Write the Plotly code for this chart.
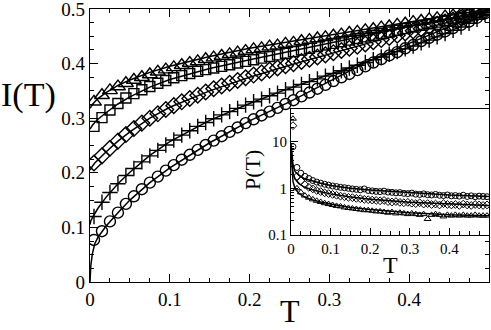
import numpy as np
import plotly.graph_objects as go

# main panel: I(T), 50 points at T = 0.005 ... 0.495
T = np.round(np.arange(0.005, 0.5, 0.01), 3)

I_tri = [0.330, 0.342, 0.351, 0.358, 0.364, 0.370, 0.375, 0.380, 0.385, 0.389,
         0.393, 0.397, 0.401, 0.404, 0.408, 0.411, 0.414, 0.417, 0.420, 0.423,
         0.426, 0.428, 0.431, 0.433, 0.436, 0.438, 0.441, 0.443, 0.446, 0.448,
         0.451, 0.453, 0.456, 0.458, 0.461, 0.463, 0.466, 0.468, 0.471, 0.473,
         0.476, 0.478, 0.481, 0.483, 0.486, 0.488, 0.491, 0.493, 0.496, 0.499]
I_sq = [0.285, 0.301, 0.315, 0.327, 0.337, 0.345, 0.352, 0.358, 0.364, 0.369,
        0.374, 0.378, 0.382, 0.386, 0.389, 0.392, 0.395, 0.398, 0.401, 0.404,
        0.407, 0.410, 0.413, 0.416, 0.419, 0.422, 0.425, 0.428, 0.431, 0.434,
        0.437, 0.440, 0.443, 0.446, 0.449, 0.452, 0.455, 0.458, 0.461, 0.464,
        0.467, 0.470, 0.473, 0.476, 0.479, 0.482, 0.485, 0.489, 0.493, 0.497]
I_dia = [0.218, 0.231, 0.245, 0.258, 0.270, 0.281, 0.291, 0.300, 0.308, 0.316,
         0.323, 0.330, 0.336, 0.342, 0.348, 0.354, 0.359, 0.364, 0.369, 0.374,
         0.379, 0.383, 0.388, 0.392, 0.396, 0.400, 0.404, 0.408, 0.412, 0.416,
         0.420, 0.424, 0.428, 0.432, 0.436, 0.440, 0.444, 0.448, 0.452, 0.456,
         0.460, 0.464, 0.468, 0.472, 0.476, 0.480, 0.484, 0.488, 0.492, 0.497]
I_plus = [0.120, 0.146, 0.164, 0.180, 0.195, 0.208, 0.220, 0.231, 0.241, 0.251,
          0.260, 0.269, 0.277, 0.285, 0.292, 0.299, 0.306, 0.312, 0.318, 0.324,
          0.330, 0.335, 0.341, 0.346, 0.352, 0.357, 0.362, 0.367, 0.372, 0.377,
          0.382, 0.387, 0.392, 0.397, 0.402, 0.407, 0.412, 0.417, 0.422, 0.427,
          0.432, 0.438, 0.443, 0.449, 0.455, 0.461, 0.467, 0.474, 0.481, 0.490]
I_circ = [0.077, 0.093, 0.111, 0.127, 0.143, 0.157, 0.170, 0.182, 0.193, 0.204,
          0.214, 0.224, 0.233, 0.242, 0.251, 0.259, 0.267, 0.275, 0.283, 0.291,
          0.298, 0.305, 0.312, 0.319, 0.326, 0.333, 0.340, 0.347, 0.354, 0.361,
          0.368, 0.375, 0.381, 0.388, 0.395, 0.402, 0.408, 0.415, 0.421, 0.428,
          0.434, 0.441, 0.447, 0.453, 0.459, 0.465, 0.471, 0.477, 0.484, 0.492]

# fitted curves
T_fit = [0, 0.001, 0.003, 0.006, 0.01, 0.02, 0.035, 0.05, 0.075, 0.1,
         0.15, 0.2, 0.25, 0.3, 0.35, 0.4, 0.45, 0.5]
fit_tri = [0.318, 0.321, 0.325, 0.330, 0.336, 0.347, 0.360, 0.370, 0.384, 0.395,
           0.413, 0.428, 0.440, 0.452, 0.464, 0.476, 0.488, 0.500]
fit_sq = [0.280, 0.283, 0.287, 0.292, 0.298, 0.310, 0.326, 0.339, 0.357, 0.371,
          0.391, 0.407, 0.422, 0.437, 0.452, 0.467, 0.482, 0.498]
fit_dia = [0.205, 0.208, 0.212, 0.218, 0.224, 0.238, 0.258, 0.275, 0.300, 0.320,
           0.350, 0.375, 0.397, 0.418, 0.438, 0.457, 0.476, 0.497]
fit_plus = [0.105, 0.112, 0.118, 0.125, 0.135, 0.155, 0.180, 0.201, 0.232, 0.257,
            0.296, 0.327, 0.355, 0.380, 0.405, 0.430, 0.458, 0.495]
fit_circ = [0.0, 0.030, 0.052, 0.070, 0.082, 0.102, 0.127, 0.150, 0.182, 0.209,
            0.255, 0.295, 0.330, 0.368, 0.405, 0.437, 0.468, 0.498]

# inset: P(T), log scale
P_circ = [7.8, 2.8, 2.1, 1.8, 1.62, 1.47, 1.36, 1.29, 1.22, 1.17,
          1.12, 1.09, 1.05, 1.03, 1.00, 0.97, 0.95, 0.93, 0.97, 0.90,
          0.88, 0.86, 0.85, 0.87, 0.83, 0.82, 0.80, 0.81, 0.78, 0.77,
          0.79, 0.75, 0.74, 0.76, 0.73, 0.72, 0.74, 0.71, 0.70, 0.72,
          0.69, 0.70, 0.68, 0.71, 0.67, 0.69, 0.66, 0.68, 0.67, 0.66]
P_dia = [22, 1.8, 1.45, 1.2, 1.05, 0.97, 0.90, 0.85, 0.80, 0.77,
         0.74, 0.71, 0.68, 0.66, 0.64, 0.63, 0.61, 0.60, 0.58, 0.57,
         0.56, 0.55, 0.54, 0.55, 0.52, 0.51, 0.52, 0.50, 0.49, 0.50,
         0.48, 0.47, 0.49, 0.46, 0.47, 0.45, 0.46, 0.44, 0.47, 0.45,
         0.44, 0.45, 0.43, 0.46, 0.44, 0.43, 0.45, 0.44, 0.43, 0.44]
P_tri = [31, 1.0, 0.82, 0.70, 0.63, 0.58, 0.54, 0.51, 0.48, 0.46,
         0.44, 0.42, 0.41, 0.39, 0.38, 0.37, 0.36, 0.35, 0.34, 0.34,
         0.33, 0.32, 0.32, 0.31, 0.30, 0.31, 0.29, 0.30, 0.29, 0.28,
         0.29, 0.28, 0.27, 0.28, 0.22, 0.27, 0.28, 0.27, 0.25, 0.27,
         0.26, 0.27, 0.26, 0.27, 0.26, 0.26, 0.27, 0.26, 0.26, 0.26]
T_fit_in = [0, 0.002, 0.005, 0.01, 0.02, 0.035, 0.05, 0.075, 0.1, 0.15, 0.2, 0.3, 0.4, 0.5]
Pfit_circ = [9, 5, 3.2, 2.3, 1.9, 1.6, 1.45, 1.28, 1.15, 1.0, 0.92, 0.80, 0.72, 0.67]
Pfit_dia = [8, 3.5, 2.2, 1.6, 1.25, 1.05, 0.95, 0.84, 0.76, 0.65, 0.58, 0.50, 0.46, 0.43]
Pfit_tri = [7, 2.5, 1.4, 1.0, 0.78, 0.65, 0.58, 0.51, 0.46, 0.39, 0.35, 0.30, 0.27, 0.26]

W, H = 491, 330
FONT = "Liberation Serif"
TICKFONT = "Times New Roman, Liberation Serif"


def px_x(p):
    return p / W


def px_y(p):
    return 1 - p / H


fig = go.Figure()

main = [
    (I_tri, fit_tri, "triangle-up-open", 13),
    (I_sq, fit_sq, "square-open", 10),
    (I_dia, fit_dia, "diamond-open", 12),
    (I_plus, fit_plus, "cross-thin-open", 11),
    (I_circ, fit_circ, "circle-open", 11),
]
for vals, fit, sym, sz in main:
    fig.add_trace(go.Scatter(x=T_fit, y=fit, mode="lines",
                             line=dict(color="black", width=1.5),
                             xaxis="x", yaxis="y", showlegend=False))
    fig.add_trace(go.Scatter(x=T, y=vals, mode="markers",
                             marker=dict(symbol=sym, size=sz, color="black",
                                         line=dict(color="black", width=1.4)),
                             xaxis="x", yaxis="y", showlegend=False))

inset = [
    (P_circ, Pfit_circ, "circle-open", 6),
    (P_dia, Pfit_dia, "diamond-open", 6),
    (P_tri, Pfit_tri, "triangle-up-open", 6),
]
for vals, fit, sym, sz in inset:
    fig.add_trace(go.Scatter(x=T_fit_in, y=fit, mode="lines",
                             line=dict(color="black", width=1.5),
                             xaxis="x2", yaxis="y2", showlegend=False))
    fig.add_trace(go.Scatter(x=T, y=vals, mode="markers",
                             marker=dict(symbol=sym, size=sz, color="black",
                                         line=dict(color="black", width=1)),
                             xaxis="x2", yaxis="y2", showlegend=False))

ax_common = dict(showline=True, linecolor="black", linewidth=1.2, mirror="allticks",
                 ticks="inside", tickcolor="black", showgrid=False, zeroline=False,
                 automargin=False, ticklabeloverflow="allow")
minor_lin = dict(ticks="inside", ticklen=4, tickcolor="black", tick0=0, dtick=0.025)

log_minor = [m * 10.0 ** e for e in (-1, 0, 1) for m in range(2, 10) if m * 10.0 ** e < 50]

fig.update_layout(
    width=W, height=H,
    margin=dict(l=0, r=0, t=0, b=0),
    paper_bgcolor="white", plot_bgcolor="white",
    font=dict(family=FONT, color="black"),
    xaxis=dict(ax_common, domain=[px_x(90), px_x(489)], range=[0, 0.5],
               tickvals=[0, 0.1, 0.2, 0.3, 0.4], ticklen=8,
               tickfont=dict(size=19, family=TICKFONT, color="black"), minor=minor_lin),
    yaxis=dict(ax_common, domain=[px_y(282), px_y(9)], range=[0, 0.5],
               tickvals=[0, 0.1, 0.2, 0.3, 0.4, 0.5], ticktext=["0", "0.1", "0.2", "0.3", "0.4", "0.5"],
               ticklen=8, tickfont=dict(size=19, family=TICKFONT, color="black"), minor=minor_lin),
    xaxis2=dict(ax_common, anchor="y2", domain=[px_x(291), px_x(489)], range=[0, 0.5],
                mirror=True, tickvals=[0, 0.1, 0.2, 0.3, 0.4], ticklen=7,
                tickfont=dict(size=15, family=TICKFONT, color="black"),
                minor=dict(ticks="inside", ticklen=4, tickcolor="black", tick0=0, dtick=0.025)),
    yaxis2=dict(ax_common, anchor="x2", type="log", domain=[px_y(235), px_y(109)],
                range=[-1, np.log10(50)], mirror=True,
                tickvals=[0.1, 1, 10], ticktext=["0.1", "1", "10"], ticklen=7,
                tickfont=dict(size=15, family=TICKFONT, color="black"),
                minor=dict(ticks="inside", ticklen=3, tickcolor="black",
                           tickmode="array", tickvals=log_minor)),
    annotations=[
        dict(text="I(T)", x=px_x(28), y=px_y(95), xref="paper", yref="paper",
             xanchor="center", yanchor="middle",
             showarrow=False, font=dict(size=34, family=FONT)),
        dict(text="T", x=px_x(290), y=px_y(311), xref="paper", yref="paper",
             xanchor="center", yanchor="middle",
             showarrow=False, font=dict(size=32, family=FONT)),
        dict(text="P(T)", x=px_x(252), y=px_y(170), xref="paper", yref="paper",
             xanchor="center", yanchor="middle",
             showarrow=False, textangle=-90, font=dict(size=22, family=FONT)),
        dict(text="T", x=px_x(390), y=px_y(265), xref="paper", yref="paper",
             xanchor="center", yanchor="middle",
             showarrow=False, font=dict(size=24, family=FONT)),
    ],
)

# drop the default page margin so the figure sits at the window's corner
fig.write_html("out.html", config={"displayModeBar": False},
               post_script="document.body.style.margin='0';")
